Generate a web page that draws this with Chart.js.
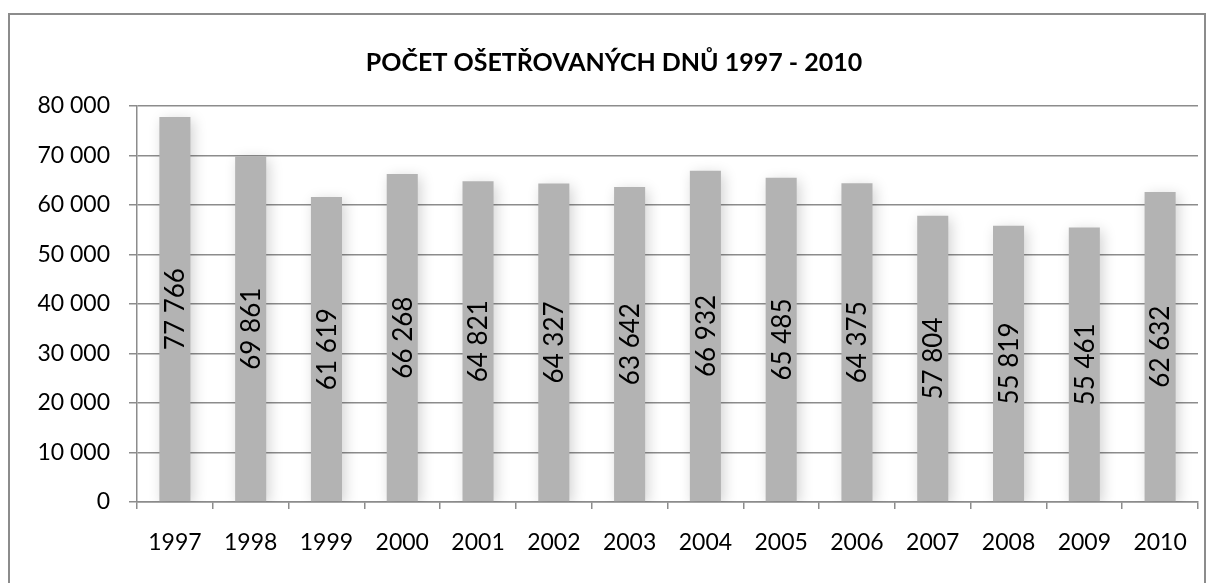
<!DOCTYPE html>
<html>
<head>
<meta charset="utf-8">
<script src="https://cdn.jsdelivr.net/npm/chart.js@4.4.1/dist/chart.umd.min.js"></script>
<style>
  html, body { margin: 0; padding: 0; background: #fff; }
  #wrap { position: relative; width: 1216px; height: 583px; }
  #frame { position: absolute; left: 8px; top: 13px; width: 1198px; height: 580px; border: 2px solid #8c8c8c; box-sizing: border-box; }
  canvas { position: absolute; left: 0; top: 0; }
</style>
</head>
<body>
<div id="wrap">
  <div id="frame"></div>
  <canvas id="myChart" width="1216" height="583"></canvas>
</div>
<script>
let years = ['1997','1998','1999','2000','2001','2002','2003','2004','2005','2006','2007','2008','2009','2010']
let days = [77766, 69861, 61619, 66268, 64821, 64327, 63642, 66932, 65485, 64375, 57804, 55819, 55461, 62632]
let yTicks = [0, 10000, 20000, 30000, 40000, 50000, 60000, 70000, 80000]
let chartTitle = 'POČET OŠETŘOVANÝCH DNŮ 1997 - 2010'

function fmt(v){
    return String(v).replace(/\B(?=(\d{3})+(?!\d))/g, ' ')
}

// soft shadow around the bars
const barShadow = {
    id: 'barShadow',
    beforeDatasetDraw(chart){
        const c = chart.ctx
        c.save()
        c.shadowColor = 'rgba(0,0,0,0.18)'
        c.shadowBlur = 14
        c.shadowOffsetX = 3
        c.shadowOffsetY = 3
    },
    afterDatasetDraw(chart){
        chart.ctx.restore()
    }
}

// labels inside bars, rotated
const barLabels = {
    id: 'barLabels',
    afterDatasetsDraw(chart){
        const c = chart.ctx
        const meta = chart.getDatasetMeta(0)
        c.save()
        c.font = '26px Lato'
        c.fillStyle = '#000'
        c.textAlign = 'center'
        c.textBaseline = 'middle'
        meta.data.forEach((bar, i)=>{
            let cy = (bar.y + bar.base) / 2
            c.save()
            c.translate(bar.x + 1, cy)
            c.rotate(-Math.PI / 2)
            c.fillText(fmt(days[i]), 0, 0)
            c.restore()
        })
        c.restore()
    }
}

const ctx = document.getElementById('myChart')
new Chart(ctx, {
    type: 'bar',
    data: {
        labels: years,
        datasets: [{
            data: days,
            backgroundColor: '#b3b3b3',
            barPercentage: 0.41,
            categoryPercentage: 1
        }]
    },
    options: {
        responsive: false,
        animation: false,
        layout: { padding: { left: 30, right: 18, top: 48, bottom: 0 } },
        plugins: {
            legend: { display: false },
            tooltip: { enabled: false },
            title: {
                display: true,
                text: chartTitle,
                color: '#000',
                font: { family: 'Lato', size: 25, weight: 'bold' },
                padding: { top: 0, bottom: 28 }
            }
        },
        scales: {
            x: {
                grid: { display: true, drawOnChartArea: false, drawTicks: true, tickLength: 7, color: '#8c8c8c', lineWidth: 1.5, offset: true },
                border: { display: true, color: '#8c8c8c', width: 1.5 },
                ticks: { color: '#000', font: { family: 'Lato', size: 23 }, padding: 20, maxRotation: 0 },
                afterFit(scale){ scale.height = 81 }
            },
            y: {
                min: 0,
                max: 80000,
                afterBuildTicks(scale){ scale.ticks = yTicks.map(v=>({ value: v })) },
                grid: { color: '#8c8c8c', lineWidth: 1.5, tickLength: 8 },
                border: { display: true, color: '#8c8c8c', width: 1.5 },
                ticks: { color: '#000', font: { family: 'Lato', size: 23 }, padding: 19, callback: (v)=>fmt(v) },
                afterFit(scale){ scale.width = 107 }
            }
        }
    },
    plugins: [barShadow, barLabels]
})
</script>
</body>
</html>
